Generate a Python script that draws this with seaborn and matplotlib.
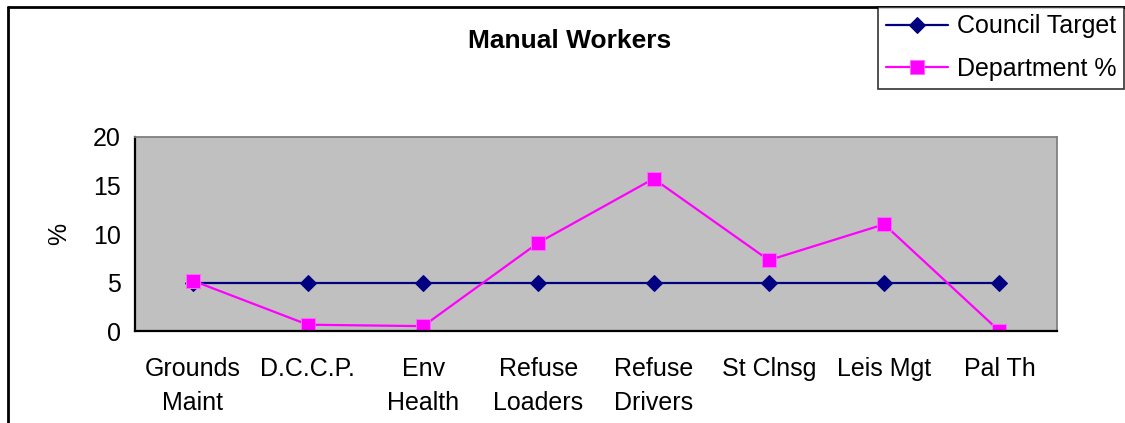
"""
Manual Workers chart: council target vs department percentage
"""
import matplotlib
matplotlib.use("Agg")
import matplotlib.pyplot as plt
from matplotlib.lines import Line2D
import seaborn as sns
import pandas as pd

categories = ["Grounds\nMaint", "D.C.C.P.", "Env\nHealth", "Refuse\nLoaders",
              "Refuse\nDrivers", "St Clnsg", "Leis Mgt", "Pal Th"]
council_target = [5, 5, 5, 5, 5, 5, 5, 5]
department_pct = [5.2, 0.65, 0.5, 9.1, 15.7, 7.3, 11.0, 0.0]
y_ticks = [0, 5, 10, 15, 20]

sns.set_style("white", {"text.color": "black", "xtick.color": "black",
                        "ytick.color": "black", "axes.labelcolor": "black"})
plt.rcParams['font.family'] = ['Liberation Sans', 'DejaVu Sans']

df = pd.DataFrame({
    "category": categories * 2,
    "value": council_target + department_pct,
    "series": ["Council Target"] * len(categories) + ["Department %"] * len(categories),
})

fig = plt.figure(figsize=(11.25, 4.23), dpi=100)
ax = fig.add_axes([135 / 1125, 1 - 331 / 423, (1057 - 135) / 1125, (331 - 137) / 423])
ax.set_facecolor("#C0C0C0")

palette = {"Council Target": "#000080", "Department %": "#FF00FF"}
markers = {"Council Target": "D", "Department %": "s"}
sns.lineplot(data=df, x="category", y="value", hue="series", style="series",
             palette=palette, markers=markers, dashes=False, sort=False,
             linewidth=1.6, markersize=9, ax=ax)

# marker edges like the Excel original
for line in ax.get_lines():
    if line.get_color() == "#FF00FF":
        line.set_markeredgecolor("#FF66FF")
        line.set_markersize(10)
    else:
        line.set_markeredgecolor("#000080")
        line.set_markersize(8)

ax.set_xlim(-0.5, len(categories) - 0.5)
ax.set_ylim(0, 20)
ax.set_yticks(y_ticks)
ax.set_xticks([i - 0.5 for i in range(len(categories) + 1)], minor=False)
ax.set_xticklabels([])
ax.set_xticks(range(len(categories)), minor=True)
ax.set_xticklabels(categories, minor=True, fontsize=18, linespacing=1.5, color="black")
ax.tick_params(axis="x", which="minor", length=0, pad=19)
ax.tick_params(axis="x", which="major", length=6, width=1.3, color="black", direction="out")
ax.tick_params(axis="y", length=6, width=1.3, color="black", labelcolor="black",
               direction="out", labelsize=18, pad=4)
ax.set_xlabel("")
ax.set_ylabel("%", fontsize=18, labelpad=16, color="black")
fig.text(570 / 1125, 1 - 41 / 423, "Manual Workers", fontsize=19, fontweight="bold",
         ha="center", va="center", color="black")

for side in ["left", "bottom"]:
    ax.spines[side].set_color("black")
    ax.spines[side].set_linewidth(1.6)
for side in ["top", "right"]:
    ax.spines[side].set_color("#808080")
    ax.spines[side].set_linewidth(1.3)

handles, labels = ax.get_legend_handles_labels()
ax.get_legend().remove()
leg = fig.legend(handles, labels, loc="upper left",
                 bbox_to_anchor=(878 / 1125, 1 - 7 / 423), bbox_transform=fig.transFigure,
                 fontsize=18, frameon=True, fancybox=False, edgecolor="black",
                 borderpad=0.3, handlelength=2.5, handletextpad=0.35, labelspacing=0.75,
                 borderaxespad=0, labelcolor="black")
leg.get_frame().set_linewidth(1.2)

# outer chart border (left and top edges visible)
fig.add_artist(Line2D([8 / 1125, 8 / 1125], [0, 1 - 7 / 423], transform=fig.transFigure,
                      color="black", linewidth=2))
fig.add_artist(Line2D([8 / 1125, 1], [1 - 7 / 423, 1 - 7 / 423], transform=fig.transFigure,
                      color="black", linewidth=2))

fig.savefig("out.png", dpi=100)
plt.close(fig)
